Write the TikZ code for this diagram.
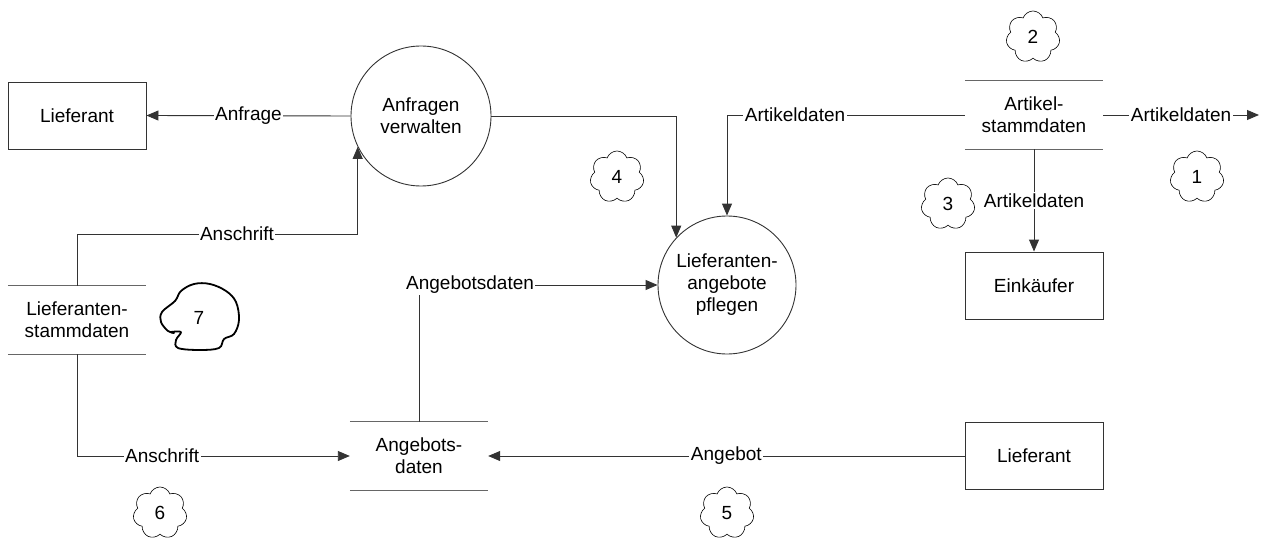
\documentclass[tikz,border=0pt]{standalone}
\usepackage{fontspec}
\setmainfont{Liberation Sans}
\usetikzlibrary{arrows.meta, positioning, shapes.geometric, shapes.symbols}
\definecolor{linegray}{HTML}{333333}
\definecolor{storegray}{HTML}{666666}

\begin{document}
\begin{tikzpicture}[x=1pt, y=-1pt,
    every node/.style={font=\fontsize{19}{22}\selectfont, text=black},
    ext/.style={rectangle, draw=linegray, line width=0.9pt, minimum width=138pt, minimum height=67pt, align=center},
    proc/.style={circle, draw=linegray, line width=0.9pt, minimum size=140pt, inner sep=0pt, align=center},
    store/.style={rectangle, minimum width=138pt, minimum height=68pt, align=center},
    flow/.style={-{Triangle[length=12pt, width=10pt]}, line width=0.9pt, color=linegray},
    plain/.style={line width=0.9pt, color=linegray},
    flab/.style={fill=white, inner sep=1.5pt},
    note/.style={cloud, cloud puffs=7, cloud puff arc=140, aspect=1, draw, line width=0.6pt, minimum width=54pt, minimum height=52pt, inner sep=0pt}
]
\useasboundingbox (0,0) rectangle (1268,540);

% Processes
\node[proc] (anf) at (421,116) {Anfragen\\verwalten};
\node[proc, minimum size=138pt] (lap) at (727,285) {Lieferanten-\\angebote\\pflegen};

% External entities
\node[ext] (lief1) at (77,115.5)  {Lieferant};
\node[ext] (eink)  at (1034,285.5) {Einkäufer};
\node[ext] (lief2) at (1034,456)  {Lieferant};

% Data stores
\node[store] (asd)  at (1034,115) {Artikel-\\stammdaten};
\node[store] (lsd)  at (77,320)   {Lieferanten-\\stammdaten};
\node[store] (angd) at (419,456)  {Angebots-\\daten};
\foreach \s in {asd, lsd, angd}
    \draw[plain, color=storegray] (\s.north west) -- (\s.north east) (\s.south west) -- (\s.south east);

% Loose ends and bends
\coordinate (out1)  at (1259,115);
\coordinate (bend1) at (77,234);

% Anfrage flows
\draw[flow] (anf.west) -- (lief1.east)
    node[flab, midway] {Anfrage};
\draw[flow] (anf.east) -| (lap.137);
\draw[flow] (lsd.north) -- (bend1) -| (anf.206)
    node[flab, pos=0.285] {Anschrift};

% Artikel flows
\draw[flow] (asd.west) -| (lap.north)
    node[flab, pos=0.357] {Artikeldaten};
\draw[flow] (asd.east) -- (out1)
    node[flab, midway] {Artikeldaten};
\draw[flow] (asd.south) -- (eink.north)
    node[flab, midway] {Artikeldaten};

% Angebot flows
\draw[flow] (angd.north) |- (lap.west)
    node[flab, pos=0.607] {Angebotsdaten};
\draw[flow] (lsd.south) |- (angd.west)
    node[flab, pos=0.656] {Anschrift};
\draw[flow] (lief2.west) -- (angd.east)
    node[flab, midway] {Angebot};

% Remarks
\node[note] (c1) at (1197,177) {1};
\node[note] (c2) at (1033,37)  {2};
\node[note] (c3) at (948,204)  {3};
\node[note] (c4) at (617,177)  {4};
\node[note] (c5) at (727,513)  {5};
\node[note] (c6) at (160,513)  {6};
\node (c7) at (199,318) {7};
\draw[line width=1.8pt, line join=round, line cap=round] plot[smooth, tension=0.6] coordinates {
    (171,332) (181,332) (176,340) (178,348) (200,350) (219,348) (224,339) (234,334)
    (239,320) (236,302) (226,291) (210,284) (194,284) (181,291) (175,301) (162,312)
    (161,322) (168,331) (174,333)};
\end{tikzpicture}
\end{document}
